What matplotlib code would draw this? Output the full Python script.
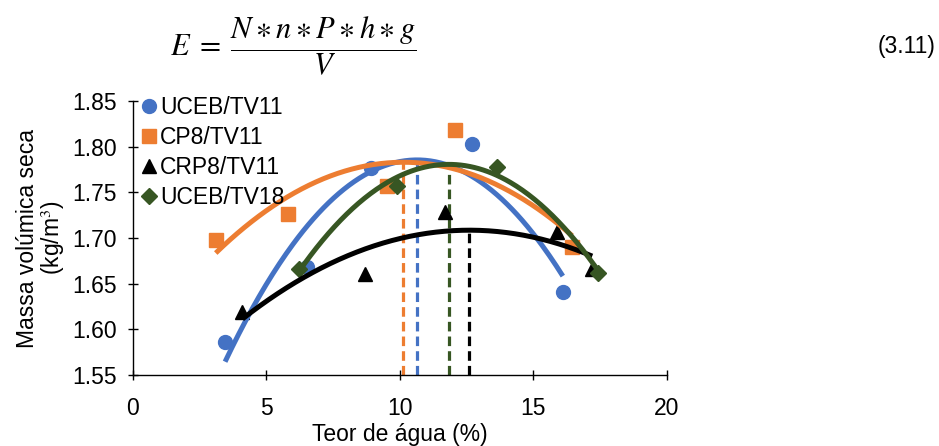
import numpy as np
import matplotlib
matplotlib.use("Agg")
import matplotlib.pyplot as plt

plt.rcParams['font.family'] = ['Liberation Sans', 'DejaVu Sans']
plt.rcParams['mathtext.fontset'] = 'stix'

series_names = ["UCEB/TV11", "CP8/TV11", "CRP8/TV11", "UCEB/TV18"]
uceb11_x = [3.45, 6.5, 8.9, 12.7, 16.1]
uceb11_y = [1.586, 1.668, 1.777, 1.803, 1.641]
cp8_x = [3.1, 5.8, 9.5, 12.05, 16.45]
cp8_y = [1.698, 1.726, 1.757, 1.818, 1.690]
crp8_x = [4.1, 8.7, 11.7, 15.9, 17.2]
crp8_y = [1.619, 1.661, 1.728, 1.707, 1.666]
uceb18_x = [6.2, 9.9, 13.65, 17.4]
uceb18_y = [1.666, 1.757, 1.778, 1.662]

colors = ["#4472C4", "#ED7D31", "#000000", "#375623"]
markers = ["o", "s", "^", "D"]
msizes = [10, 10, 10, 8]

xs = [uceb11_x, cp8_x, crp8_x, uceb18_x]
ys = [uceb11_y, cp8_y, crp8_y, uceb18_y]

FS = 16.5

fig = plt.figure(figsize=(9.39, 4.46), dpi=100)
ax = fig.add_axes([0.1416, 0.1592, 0.7103 - 0.1416, 0.7735 - 0.1592])

ymin = 1.55
for x, y, c, m, ms, name in zip(xs, ys, colors, markers, msizes, series_names):
    ax.plot(x, y, linestyle='none', marker=m, color=c, markersize=ms, label=name, zorder=3)
for x, y, c in zip(xs, ys, colors):
    p = np.polyfit(x, y, 2)
    xx = np.linspace(min(x), max(x), 200)
    ax.plot(xx, np.polyval(p, xx), color=c, lw=3.6, zorder=4, solid_capstyle='butt')
    xv = -p[1] / (2 * p[0])
    ax.plot([xv, xv], [ymin, np.polyval(p, xv)], color=c, lw=2.3, ls=(0, (3.0, 1.6)), zorder=2)

ax.set_xlim(0, 20)
ax.set_ylim(1.55, 1.85)
ax.set_xticks([0, 5, 10, 15, 20])
ax.set_yticks([1.55, 1.60, 1.65, 1.70, 1.75, 1.80, 1.85])
ax.set_yticklabels([f"{v:.2f}" for v in [1.55, 1.60, 1.65, 1.70, 1.75, 1.80, 1.85]])
for s in ['top', 'right']:
    ax.spines[s].set_visible(False)
for s in ['left', 'bottom']:
    ax.spines[s].set_linewidth(1.0)
ax.tick_params(direction='inout', length=7, width=1.0, labelsize=FS)
ax.tick_params(axis='x', pad=12)
ax.tick_params(axis='y', pad=8)
ax.set_xlabel("Teor de água (%)", fontsize=FS, labelpad=2.5)
ax.set_ylabel("Massa volúmica seca\n(kg/m$^3$)", fontsize=FS, labelpad=4, linespacing=1.0)

leg = ax.legend(loc='upper left', bbox_to_anchor=(-0.005, 1.05), frameon=False, fontsize=FS,
                handlelength=0.8, handletextpad=0.1, labelspacing=0.3, borderaxespad=0)

fig.text(0.181, 0.895, r'$E\;=\;\dfrac{N\ast n\ast P\ast h\ast g}{V}$', fontsize=22, va='center', ha='left')
fig.text(0.996, 0.895, "(3.11)", fontsize=FS, va='center', ha='right')

fig.savefig("out.png", dpi=100)
